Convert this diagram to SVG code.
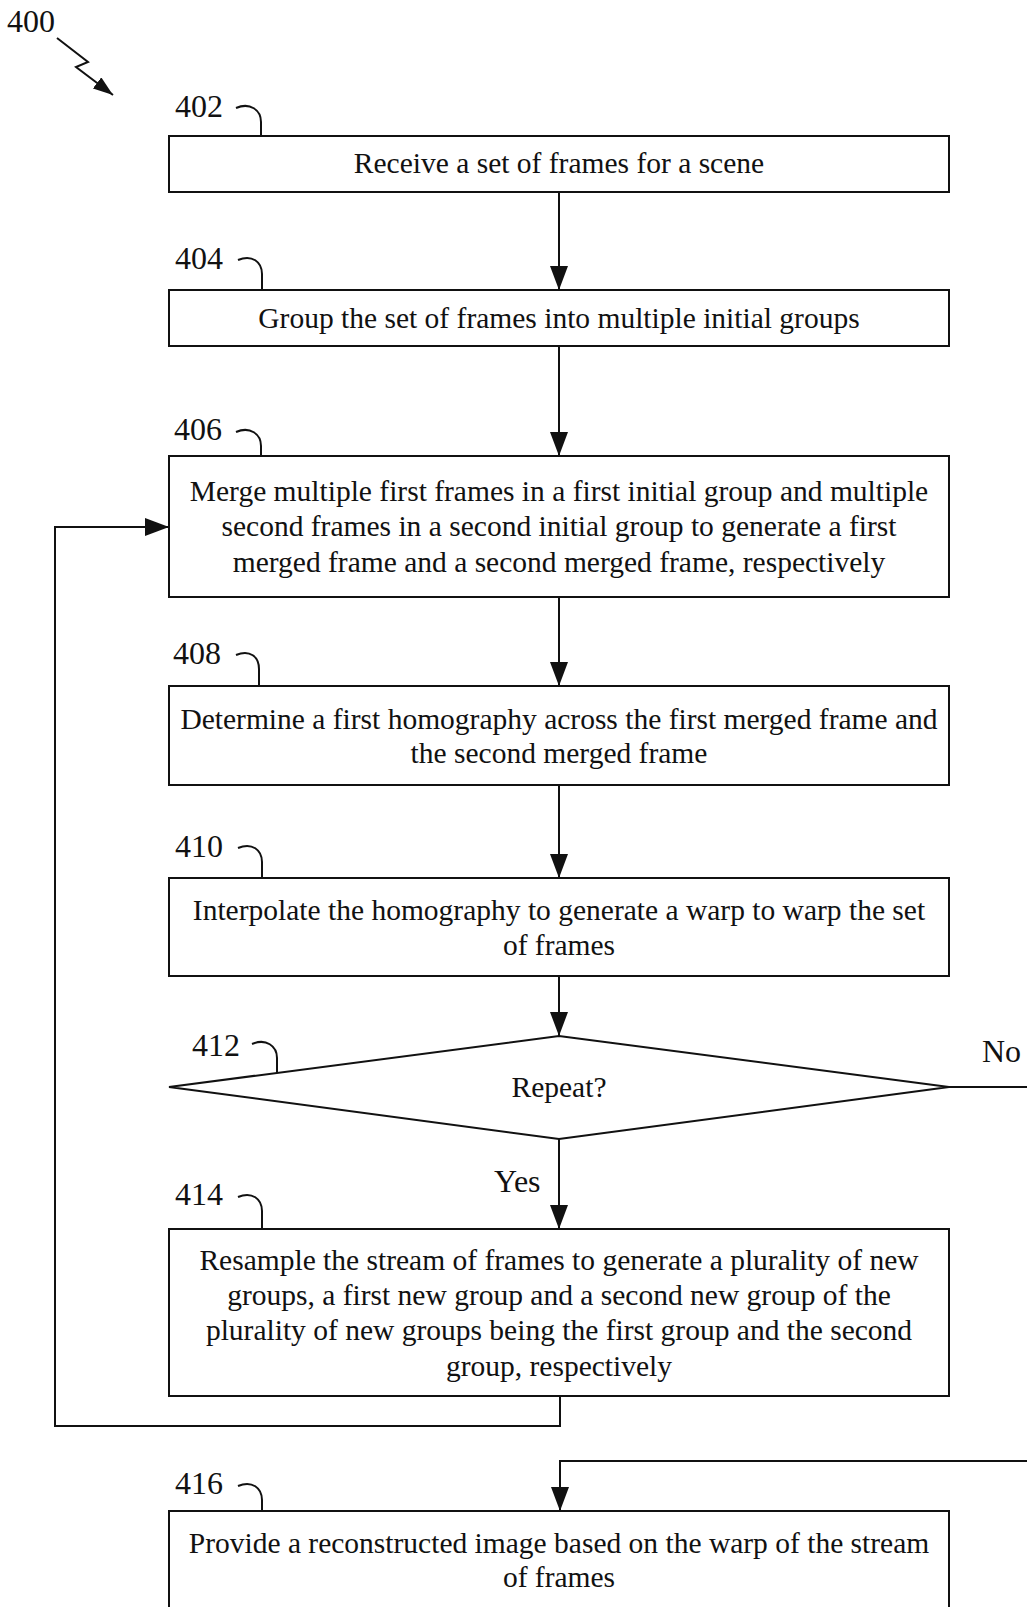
<svg xmlns="http://www.w3.org/2000/svg" width="1027" height="1607" viewBox="0 0 1027 1607">
<style>
.box{fill:#fff;stroke:#111;stroke-width:2}
.ln{fill:none;stroke:#111;stroke-width:2}
.t{font-family:"Liberation Serif",serif;font-size:29.5px;fill:#111;text-anchor:middle}
.lb{font-family:"Liberation Serif",serif;font-size:32px;fill:#111}
</style>
<defs>
<marker id="ah2" viewBox="0 0 24 18" refX="24" refY="9" markerWidth="24" markerHeight="18" orient="auto" markerUnits="userSpaceOnUse">
<path d="M0,0 L24,9 L0,18 Z" fill="#111"/>
</marker>
<marker id="ah3" viewBox="0 0 20 14" refX="20" refY="7" markerWidth="20" markerHeight="14" orient="auto" markerUnits="userSpaceOnUse">
<path d="M0,0 L20,7 L0,14 Z" fill="#111"/>
</marker>
</defs>
<rect width="1027" height="1607" fill="#fff"/>
<g id="fig-label">
<text class="lb" x="7" y="32">400</text>
<path class="ln" d="M57,38 L88,62 L76,67 L113,95" marker-end="url(#ah3)"/>
</g>
<g id="connectors">
<path class="ln" d="M559,192 V290" marker-end="url(#ah2)"/>
<path class="ln" d="M559,346 V456" marker-end="url(#ah2)"/>
<path class="ln" d="M559,597 V686" marker-end="url(#ah2)"/>
<path class="ln" d="M559,785 V878" marker-end="url(#ah2)"/>
<path class="ln" d="M559,976 V1036" marker-end="url(#ah2)"/>
<path class="ln" d="M559,1139 V1229" marker-end="url(#ah2)"/>
<path class="ln" d="M560,1396 V1426 H55 V527 H169" marker-end="url(#ah2)"/>
<path class="ln" d="M949,1087 H1032 V1461 H560 V1511" marker-end="url(#ah2)"/>
<text class="lb" x="494" y="1192">Yes</text>
<text class="lb" x="982" y="1062">No</text>
</g>
<g id="n402">
<text class="lb" x="175" y="117">402</text>
<path class="ln" d="M236,108 C250,102 261,110 261,122 V136"/>
<rect class="box" x="169" y="136" width="780" height="56"/>
<text class="t" x="559" y="173">Receive a set of frames for a scene</text>
</g>
<g id="n404">
<text class="lb" x="175" y="269">404</text>
<path class="ln" d="M238,260 C252,254 262,262 262,274 V290"/>
<rect class="box" x="169" y="290" width="780" height="56"/>
<text class="t" x="559" y="328">Group the set of frames into multiple initial groups</text>
</g>
<g id="n406">
<text class="lb" x="174" y="440">406</text>
<path class="ln" d="M236,432 C250,426 261,434 261,446 V456"/>
<rect class="box" x="169" y="456" width="780" height="141"/>
<text class="t" x="559" y="501">Merge multiple first frames in a first initial group and multiple</text>
<text class="t" x="559" y="536">second frames in a second initial group to generate a first</text>
<text class="t" x="559" y="572">merged frame and a second merged frame, respectively</text>
</g>
<g id="n408">
<text class="lb" x="173" y="664">408</text>
<path class="ln" d="M236,655 C250,649 259,657 259,669 V686"/>
<rect class="box" x="169" y="686" width="780" height="99"/>
<text class="t" x="559" y="729">Determine a first homography across the first merged frame and</text>
<text class="t" x="559" y="763">the second merged frame</text>
</g>
<g id="n410">
<text class="lb" x="175" y="857">410</text>
<path class="ln" d="M238,848 C252,842 262,850 262,862 V878"/>
<rect class="box" x="169" y="878" width="780" height="98"/>
<text class="t" x="559" y="920">Interpolate the homography to generate a warp to warp the set</text>
<text class="t" x="559" y="955">of frames</text>
</g>
<g id="n412">
<text class="lb" x="192" y="1056">412</text>
<path class="ln" d="M252,1044 C266,1038 277,1046 277,1058 V1073"/>
<polygon class="box" points="169,1087 559,1036 949,1087 559,1139"/>
<text class="t" x="559" y="1097">Repeat?</text>
</g>
<g id="n414">
<text class="lb" x="175" y="1205">414</text>
<path class="ln" d="M238,1197 C252,1191 262,1199 262,1211 V1229"/>
<rect class="box" x="169" y="1229" width="780" height="167"/>
<text class="t" x="559" y="1270">Resample the stream of frames to generate a plurality of new</text>
<text class="t" x="559" y="1305">groups, a first new group and a second new group of the</text>
<text class="t" x="559" y="1340">plurality of new groups being the first group and the second</text>
<text class="t" x="559" y="1376">group, respectively</text>
</g>
<g id="n416">
<text class="lb" x="175" y="1494">416</text>
<path class="ln" d="M238,1486 C252,1480 262,1488 262,1500 V1511"/>
<rect class="box" x="169" y="1511" width="780" height="120"/>
<text class="t" x="559" y="1553">Provide a reconstructed image based on the warp of the stream</text>
<text class="t" x="559" y="1587">of frames</text>
</g>
</svg>
